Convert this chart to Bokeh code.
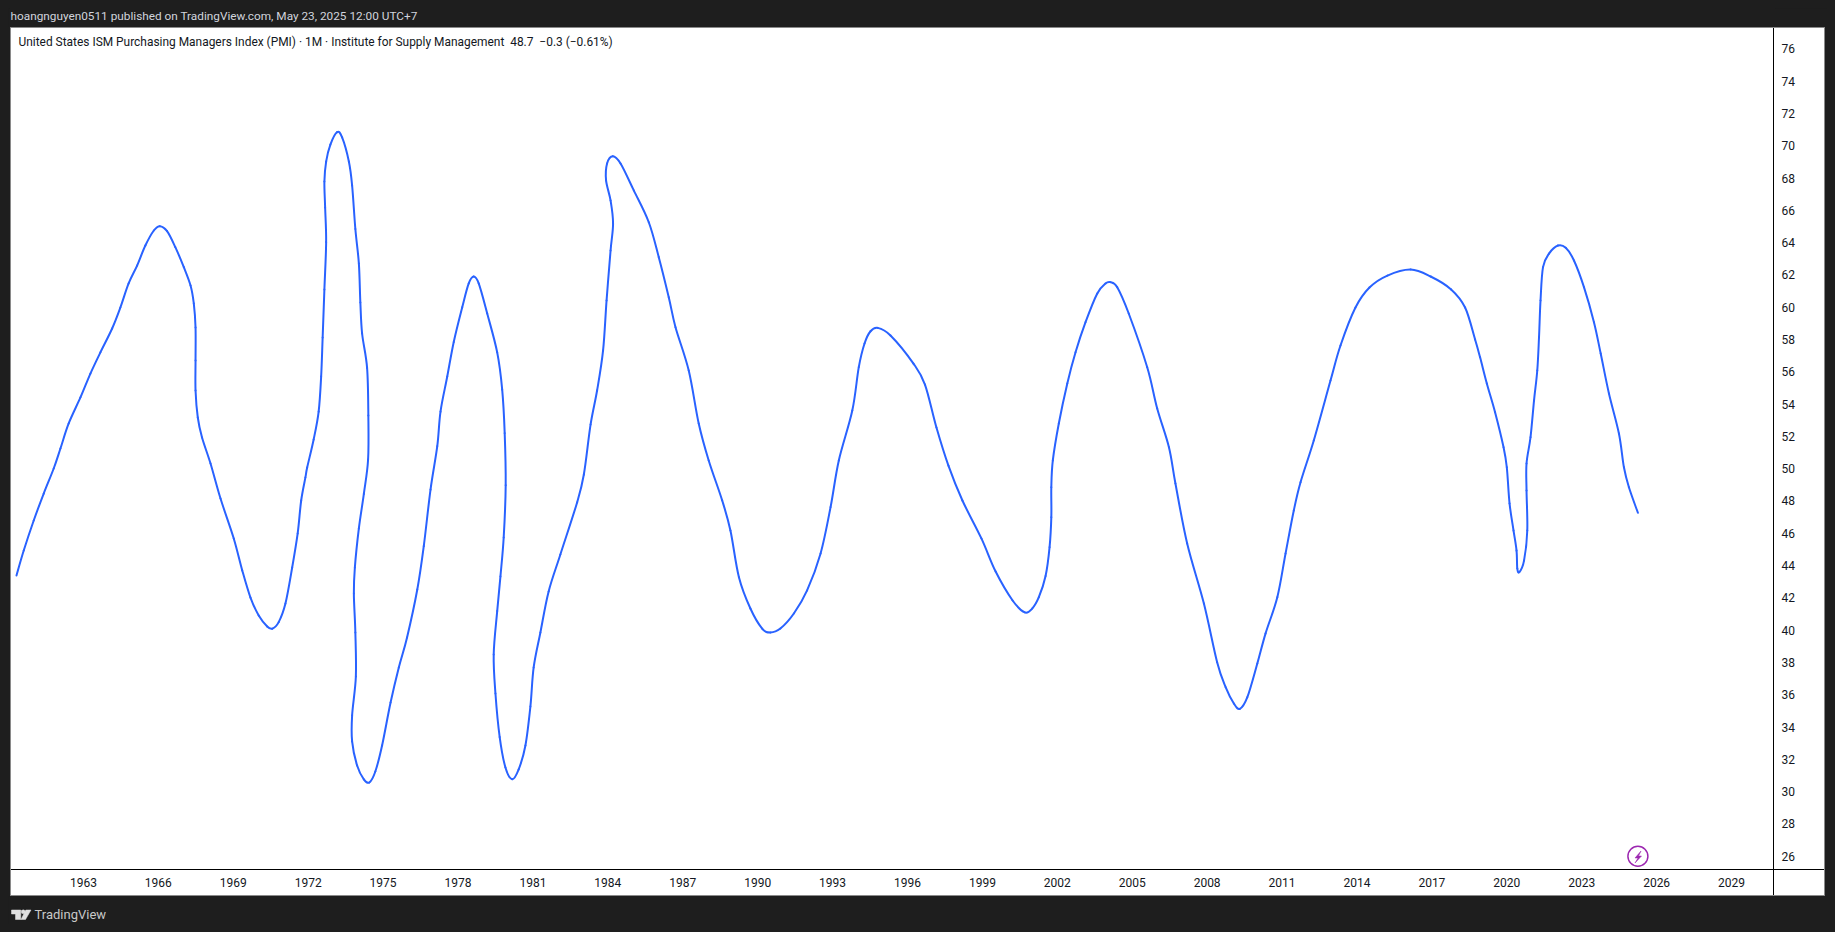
from bokeh.plotting import figure
from bokeh.layouts import column
from bokeh.models import Label, PolyAnnotation, FixedTicker, Range1d
from bokeh.embed import file_html
from bokeh.resources import INLINE

pub_text = "hoangnguyen0511 published on TradingView.com, May 23, 2025 12:00 UTC+7"
legend_text = "United States ISM Purchasing Managers Index (PMI) \u00b7 1M \u00b7 Institute for Supply Management\u00a0 48.7\u00a0 \u22120.3 (\u22120.61%)"
brand_text = "TradingView"
year_ticks = list(range(1963, 2030, 3))
value_ticks = list(range(26, 77, 2))

years = [1960.32,1960.61,1961.01,1961.41,1961.81,1962.08,1962.41,1962.88,1963.28,1963.68,1964.15,1964.48,1964.81,1965.15,1965.48,1965.82,1966.06,1966.35,1966.68,1967.02,1967.29,1967.42,1967.49,1967.49,1967.49,1967.58,1967.75,1968.09,1968.49,1969.02,1969.36,1969.69,1970.02,1970.36,1970.56,1970.82,1971.09,1971.36,1971.58,1971.72,1971.89,1971.96,1972.22,1972.42,1972.52,1972.58,1972.65,1972.72,1972.68,1972.65,1972.72,1972.89,1973.16,1973.36,1973.63,1973.76,1973.89,1974.03,1974.09,1974.16,1974.36,1974.41,1974.40,1974.23,1974.03,1973.87,1973.83,1973.89,1973.91,1973.76,1973.76,1973.96,1974.23,1974.45,1974.69,1974.96,1975.30,1975.63,1975.96,1976.37,1976.63,1976.90,1977.17,1977.30,1977.57,1977.83,1978.17,1978.43,1978.63,1978.83,1979.17,1979.57,1979.77,1979.87,1979.91,1979.83,1979.70,1979.57,1979.43,1979.50,1979.67,1979.90,1980.17,1980.43,1980.70,1980.90,1981.03,1981.30,1981.63,1982.10,1982.77,1983.04,1983.31,1983.57,1983.81,1983.95,1984.11,1984.21,1984.11,1983.93,1983.97,1984.20,1984.51,1985.04,1985.64,1986.04,1986.44,1986.71,1987.24,1987.64,1988.04,1988.58,1988.91,1989.25,1989.71,1990.18,1990.51,1990.91,1991.45,1991.98,1992.52,1992.92,1993.25,1993.79,1994.05,1994.28,1994.52,1994.81,1995.32,1996.24,1996.70,1997.16,1997.64,1998.20,1998.96,1999.53,2000.21,2000.70,2001.00,2001.26,2001.53,2001.69,2001.76,2001.76,2001.82,2002.06,2002.40,2002.73,2003.13,2003.60,2003.93,2004.13,2004.40,2004.86,2005.60,2006.00,2006.47,2006.73,2007.20,2007.87,2008.40,2008.74,2009.07,2009.31,2009.61,2010.01,2010.34,2010.81,2011.14,2011.47,2011.74,2012.27,2012.94,2013.34,2013.94,2014.50,2015.22,2016.15,2016.95,2017.77,2018.33,2018.73,2018.93,2019.20,2019.53,2019.87,2020.00,2020.11,2020.27,2020.39,2020.42,2020.50,2020.69,2020.82,2020.79,2020.79,2020.95,2021.09,2021.22,2021.29,2021.35,2021.45,2021.69,2022.05,2022.36,2022.69,2023.09,2023.49,2023.76,2024.09,2024.49,2024.69,2024.89,2025.25]
pmi = [43.39,44.93,46.79,48.46,50.01,51.25,52.80,54.41,55.89,57.20,58.68,59.98,61.47,62.58,63.82,64.75,65.02,64.71,63.72,62.48,61.34,60.23,58.74,56.70,54.84,53.17,51.93,50.32,48.15,45.68,43.70,42.02,40.91,40.23,40.09,40.50,41.65,43.88,45.99,48.03,49.46,50.07,51.81,53.54,55.71,58.12,61.10,64.03,66.17,67.78,69.02,70.07,70.84,70.51,69.02,67.54,64.84,62.71,60.29,58.37,56.24,53.29,50.57,48.44,46.30,43.88,42.27,39.86,37.13,34.72,33.11,31.62,30.76,30.57,31.25,32.86,35.52,37.69,39.55,42.52,45.21,48.71,51.39,53.54,55.71,57.85,60.00,61.47,61.90,61.47,59.61,57.20,54.90,52.20,48.98,45.74,43.33,41.18,38.50,36.08,33.38,31.50,30.77,31.38,32.86,35.28,37.69,39.86,42.40,44.69,47.91,49.64,52.74,54.84,57.32,60.42,63.51,65.18,66.61,67.85,68.90,69.35,68.90,67.23,65.26,63.10,60.62,58.76,56.08,52.80,50.51,48.03,46.17,43.28,41.34,40.10,39.86,40.10,41.03,42.46,44.75,47.62,50.51,53.60,56.29,57.75,58.51,58.72,58.25,56.51,55.21,52.55,50.19,48.03,45.68,43.63,41.84,41.10,41.35,42.04,43.35,45.14,47.00,48.85,50.51,52.80,55.28,57.21,59.07,60.85,61.47,61.55,61.24,59.61,56.28,53.73,51.33,49.08,45.37,41.65,38.02,36.47,35.46,35.13,35.85,37.94,39.80,42.04,44.75,47.41,49.16,51.75,55.46,57.63,59.98,61.22,61.96,62.33,61.90,61.10,59.98,58.00,56.90,55.28,53.50,51.33,50.09,47.85,46.17,44.93,43.82,43.59,44.31,46.17,48.65,50.32,51.95,54.22,56.08,58.14,60.42,62.48,63.32,63.82,63.68,62.89,61.24,59.07,57.13,54.66,52.18,50.09,48.85,47.27]

DARK = "#1e1e1e"
INK = "#131722"

# page pixels: header strip 8-27, white panel 10-1825 x 27-896, footer strip 896-924
def strip(height):
    f = figure(width=1819, height=height, output_backend="svg", toolbar_location=None,
               x_axis_type=None, y_axis_type=None, min_border=0,
               x_range=Range1d(0, 1), y_range=Range1d(0, 1),
               background_fill_color=DARK, border_fill_color=DARK, outline_line_color=None)
    f.grid.visible = False
    return f

def label(fig, text, x, y, color, size):
    fig.add_layout(Label(x=x, y=y, x_units="screen", y_units="screen", text=text,
                         text_color=color, text_font="Roboto", text_font_size=size,
                         text_baseline="middle", text_align="left"))

def poly(fig, pts, color):
    fig.add_layout(PolyAnnotation(xs=[a for a, _ in pts], ys=[b for _, b in pts],
                                  xs_units="screen", ys_units="screen",
                                  fill_color=color, fill_alpha=1, line_color=color, line_alpha=1,
                                  line_width=0.5, level="overlay", editable=False))

head = strip(19)
label(head, pub_text, 1, 12, "#d1d4dc", "11.8px")

foot = strip(28)
label(foot, brand_text, 25, 10, "#c8c8c8", "13px")
MARK = "#e0e0e0"
poly(foot, [(2, 14.5), (11.3, 14.5), (11.3, 5), (6, 5), (6, 10.5), (2, 10.5)], MARK)
poly(foot, [(12, 14), (13.7, 14.7), (15.4, 14), (15.7, 12.6), (15.2, 11.2), (13.7, 10.7), (12.2, 11.2), (11.7, 12.6)], MARK)
poly(foot, [(16.3, 14.5), (21.5, 14.5), (16, 5), (11.5, 5)], MARK)

p = figure(width=1815, height=869, output_backend="svg", toolbar_location=None,
           x_axis_location="below", y_axis_location="right",
           x_range=Range1d(1960.12, 2030.68), y_range=Range1d(25.18, 77.32),
           min_border_left=1, min_border_right=52, min_border_top=0, min_border_bottom=27,
           background_fill_alpha=0, border_fill_alpha=0, outline_line_color=None,
           margin=(0, 0, 0, 2),
           styles={
               "background": "linear-gradient(#000,#000) 1763px 0/1px 100% no-repeat, "
                             "linear-gradient(#000,#000) 0 842px/100% 1px no-repeat, white",
               "box-shadow": "inset 0 0 0 1px #8a8a8a",
           })
p.grid.visible = False

for ax, ticks in ((p.xaxis[0], year_ticks), (p.yaxis[0], value_ticks)):
    ax.ticker = FixedTicker(ticks=ticks)
    ax.axis_line_color = None
    ax.major_tick_line_color = None
    ax.minor_tick_line_color = None
    ax.major_label_text_color = INK
    ax.major_label_text_font = "Roboto"
    ax.major_label_text_font_size = "12px"
p.yaxis[0].major_label_standoff = 2
p.xaxis[0].major_label_standoff = 2

# smooth pen stroke through the read-off points (cubic Bezier pieces)
n = len(years)
x0, y0, x1, y1, cx0, cy0, cx1, cy1 = [], [], [], [], [], [], [], []
for i in range(n - 1):
    a, b = max(i - 1, 0), min(i + 2, n - 1)
    x0.append(years[i]); y0.append(pmi[i]); x1.append(years[i + 1]); y1.append(pmi[i + 1])
    cx0.append(years[i] + (years[i + 1] - years[a]) / 6)
    cy0.append(pmi[i] + (pmi[i + 1] - pmi[a]) / 6)
    cx1.append(years[i + 1] - (years[b] - years[i]) / 6)
    cy1.append(pmi[i + 1] - (pmi[b] - pmi[i]) / 6)
p.bezier(x0=x0, y0=y0, x1=x1, y1=y1, cx0=cx0, cy0=cy0, cx1=cx1, cy1=cy1,
         line_color="#2962FF", line_width=2, line_cap="round")

# legend line: frame bottom is at page y 869, frame left at page x 11
label(p, legend_text, 18 - 11, 869 - 41, INK, "11.93px")

# lightning-bolt marker
p.scatter([2025.25], [26.0], marker="circle", size=20, fill_alpha=0, line_color="#9c27b0", line_width=1.5)
poly(p, [(a - 11, 869 - b) for a, b in [(1640.5, 850.5), (1634.5, 857.5), (1637.5, 857.5),
                                        (1634.5, 862.5), (1641, 855.5), (1638, 855.5)]], "#9c27b0")

page = column(head, p, foot, spacing=0)
html = file_html(page, INLINE)
html = html.replace("<body>", f'<body style="background:{DARK};margin:8px">')
open("out.html", "w").write(html)
